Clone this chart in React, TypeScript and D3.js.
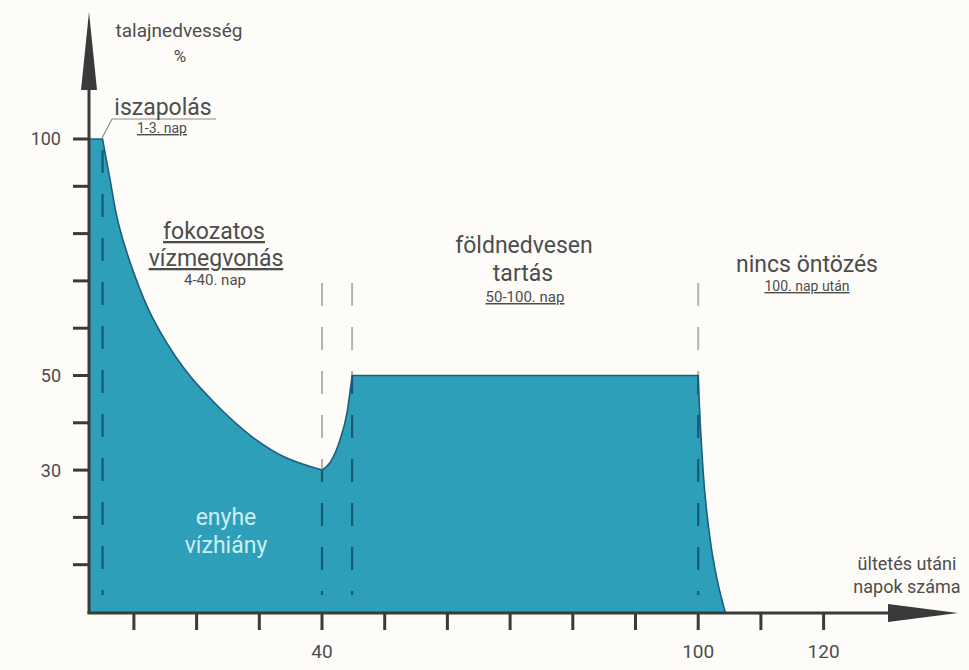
import * as d3 from "d3";

// soil moisture (%) by day after planting
const floodDays = [3, 5];
const floodMoisture = [100, 100];
const drainDays = [5, 6.2, 7.5, 10.2, 12.9, 18.1, 23.4, 28.8, 34.1, 40];
const drainMoisture = [100, 91.4, 82.3, 70.9, 62.4, 51.3, 43.5, 37.1, 32.7, 30];
const rewetDays = [40, 41.3, 42.9, 44.0, 44.8];
const rewetMoisture = [30, 31.6, 36.5, 42.2, 50];
const holdDays = [44.8, 100];
const holdMoisture = [50, 50];
const stopDays = [100, 100.2, 100.8, 101.9, 103, 104.3];
const stopMoisture = [50, 43.5, 29.5, 15.4, 7, 0];

const xTicks = [10, 20, 30, 40, 50, 60, 70, 80, 90, 100, 110, 120];
const xTickLabels = ["40", "100", "120"];
const yTicks = [10, 20, 30, 40, 50, 60, 70, 80, 90, 100];
const yTickLabels = ["30", "50", "100"];
const phaseDays = [5, 40, 44.8, 100];

const W = 969;
const H = 670;
const FILL = "#2d9fb8";
const AXIS = "#3a3a3a";
const TEXT = "#4d4d4d";
const FONT = "Roboto, 'Noto Sans', sans-serif";

const x = d3.scaleLinear().domain([0, 140]).range([71.2, 949]);
const y = d3.scaleLinear().domain([0, 100]).range([612, 139]);

const zip = (a: number[], b: number[]) => a.map((d, i) => [d, b[i]] as [number, number]);

const segments: { pts: [number, number][]; curve: d3.CurveFactory }[] = [
    { pts: zip(floodDays, floodMoisture), curve: d3.curveLinear },
    { pts: zip(drainDays, drainMoisture), curve: d3.curveCatmullRom.alpha(0.5) },
    { pts: zip(rewetDays, rewetMoisture), curve: d3.curveMonotoneX },
    { pts: zip(holdDays, holdMoisture), curve: d3.curveLinear },
    { pts: zip(stopDays, stopMoisture), curve: d3.curveMonotoneX },
];

// glue the pieces into one path so corners stay sharp
const topEdge = segments
    .map((s, i) => {
        const str = d3.line<[number, number]>()
            .x(d => x(d[0]))
            .y(d => y(d[1]))
            .curve(s.curve)(s.pts) || "";
        return i === 0 ? str : "L" + str.slice(1);
    })
    .join("");

const areaPath = `M${x(floodDays[0])},${y(0)}L` + topEdge.slice(1) + `L${x(stopDays[stopDays.length - 1])},${y(0)}Z`;

const axisX0 = x(floodDays[0]) - 1;

export default function App() {
    return (
        <svg width={W} height={H} style={{ position: "absolute", left: 0, top: 0 }} fontFamily={FONT}>
            <defs>
                <clipPath id="fillClip">
                    <path d={areaPath} />
                </clipPath>
            </defs>
            <rect width={W} height={H} fill="#fdfcf8" />

            {/* grey dashes above the fill */}
            {phaseDays.slice(1).map(d => (
                <line key={"g" + d} x1={x(d)} x2={x(d)} y1={283} y2={595}
                    stroke="#b3b3b3" strokeWidth={2} strokeDasharray="23 21" />
            ))}

            <path d={areaPath} fill={FILL} />

            {/* dark dashes inside the fill */}
            <g clipPath="url(#fillClip)">
                {phaseDays.map((d, i) => (
                    <line key={"d" + d} x1={x(d)} x2={x(d)} y1={i === 0 ? 150 : 283} y2={595}
                        stroke="#145a73" strokeWidth={2.2} strokeDasharray="23 21" />
                ))}
            </g>
            <path d={topEdge} fill="none" stroke="#1c5f7c" strokeWidth={1.6} />

            {/* axes */}
            <line x1={axisX0} x2={axisX0} y1={y(0) + 1.5} y2={88} stroke={AXIS} strokeWidth={3} />
            <polygon points={`${axisX0},12 ${axisX0 - 8},90 ${axisX0 + 8},90`} fill={AXIS} />
            <line x1={axisX0 - 1.5} x2={892} y1={y(0) + 1} y2={y(0) + 1} stroke={AXIS} strokeWidth={3} />
            <polygon points={`888,${y(0) - 8} 958,${y(0) + 1} 888,${y(0) + 10}`} fill={AXIS} />

            {yTicks.map(t => (
                <line key={"yt" + t} x1={73} x2={axisX0} y1={y(t)} y2={y(t)} stroke={AXIS} strokeWidth={3} />
            ))}
            {yTickLabels.map(l => (
                <text key={"yl" + l} x={61} y={y(+l)} dy="0.36em" textAnchor="end" fontSize={18} fill={TEXT}>{l}</text>
            ))}
            {xTicks.map(t => (
                <line key={"xt" + t} x1={x(t)} x2={x(t)} y1={y(0) + 2} y2={630} stroke={AXIS} strokeWidth={3} />
            ))}
            {xTickLabels.map(l => (
                <text key={"xl" + l} x={x(+l)} y={658} textAnchor="middle" fontSize={19} fill={TEXT}>{l}</text>
            ))}

            {/* axis titles */}
            <text x={179} y={37} textAnchor="middle" fontSize={19} fill={TEXT}>talajnedvesség</text>
            <text x={180} y={62} textAnchor="middle" fontSize={17} fill={TEXT}>%</text>
            <text x={907} y={570} textAnchor="middle" fontSize={18} fill={TEXT}>ültetés utáni</text>
            <text x={907} y={593} textAnchor="middle" fontSize={18} fill={TEXT}>napok száma</text>

            {/* phase labels */}
            <polyline points={`${x(5) - 1},${y(100)} 112,119 216,119`} fill="none" stroke="#8a8a8a" strokeWidth={1.2} />
            <text x={163} y={115} textAnchor="middle" fontSize={23} fill={TEXT}>iszapolás</text>
            <text x={162} y={133} textAnchor="middle" fontSize={14} fill={TEXT} textDecoration="underline">1-3. nap</text>

            <text x={214} y={239} textAnchor="middle" fontSize={23} fill={TEXT} textDecoration="underline">fokozatos</text>
            <text x={216} y={266} textAnchor="middle" fontSize={23} fill={TEXT} textDecoration="underline">vízmegvonás</text>
            <text x={215} y={285} textAnchor="middle" fontSize={15} fill={TEXT}>4-40. nap</text>

            <text x={524} y={253} textAnchor="middle" fontSize={23} fill={TEXT}>földnedvesen</text>
            <text x={523} y={281} textAnchor="middle" fontSize={23} fill={TEXT}>tartás</text>
            <text x={525} y={302} textAnchor="middle" fontSize={15} fill={TEXT} textDecoration="underline">50-100. nap</text>

            <text x={807} y={272} textAnchor="middle" fontSize={23} fill={TEXT}>nincs öntözés</text>
            <text x={807} y={291} textAnchor="middle" fontSize={14} fill={TEXT} textDecoration="underline">100. nap után</text>

            <text x={226} y={525} textAnchor="middle" fontSize={23} fill="#cdeef4">enyhe</text>
            <text x={226} y={553} textAnchor="middle" fontSize={23} fill="#cdeef4">vízhiány</text>
        </svg>
    );
}
